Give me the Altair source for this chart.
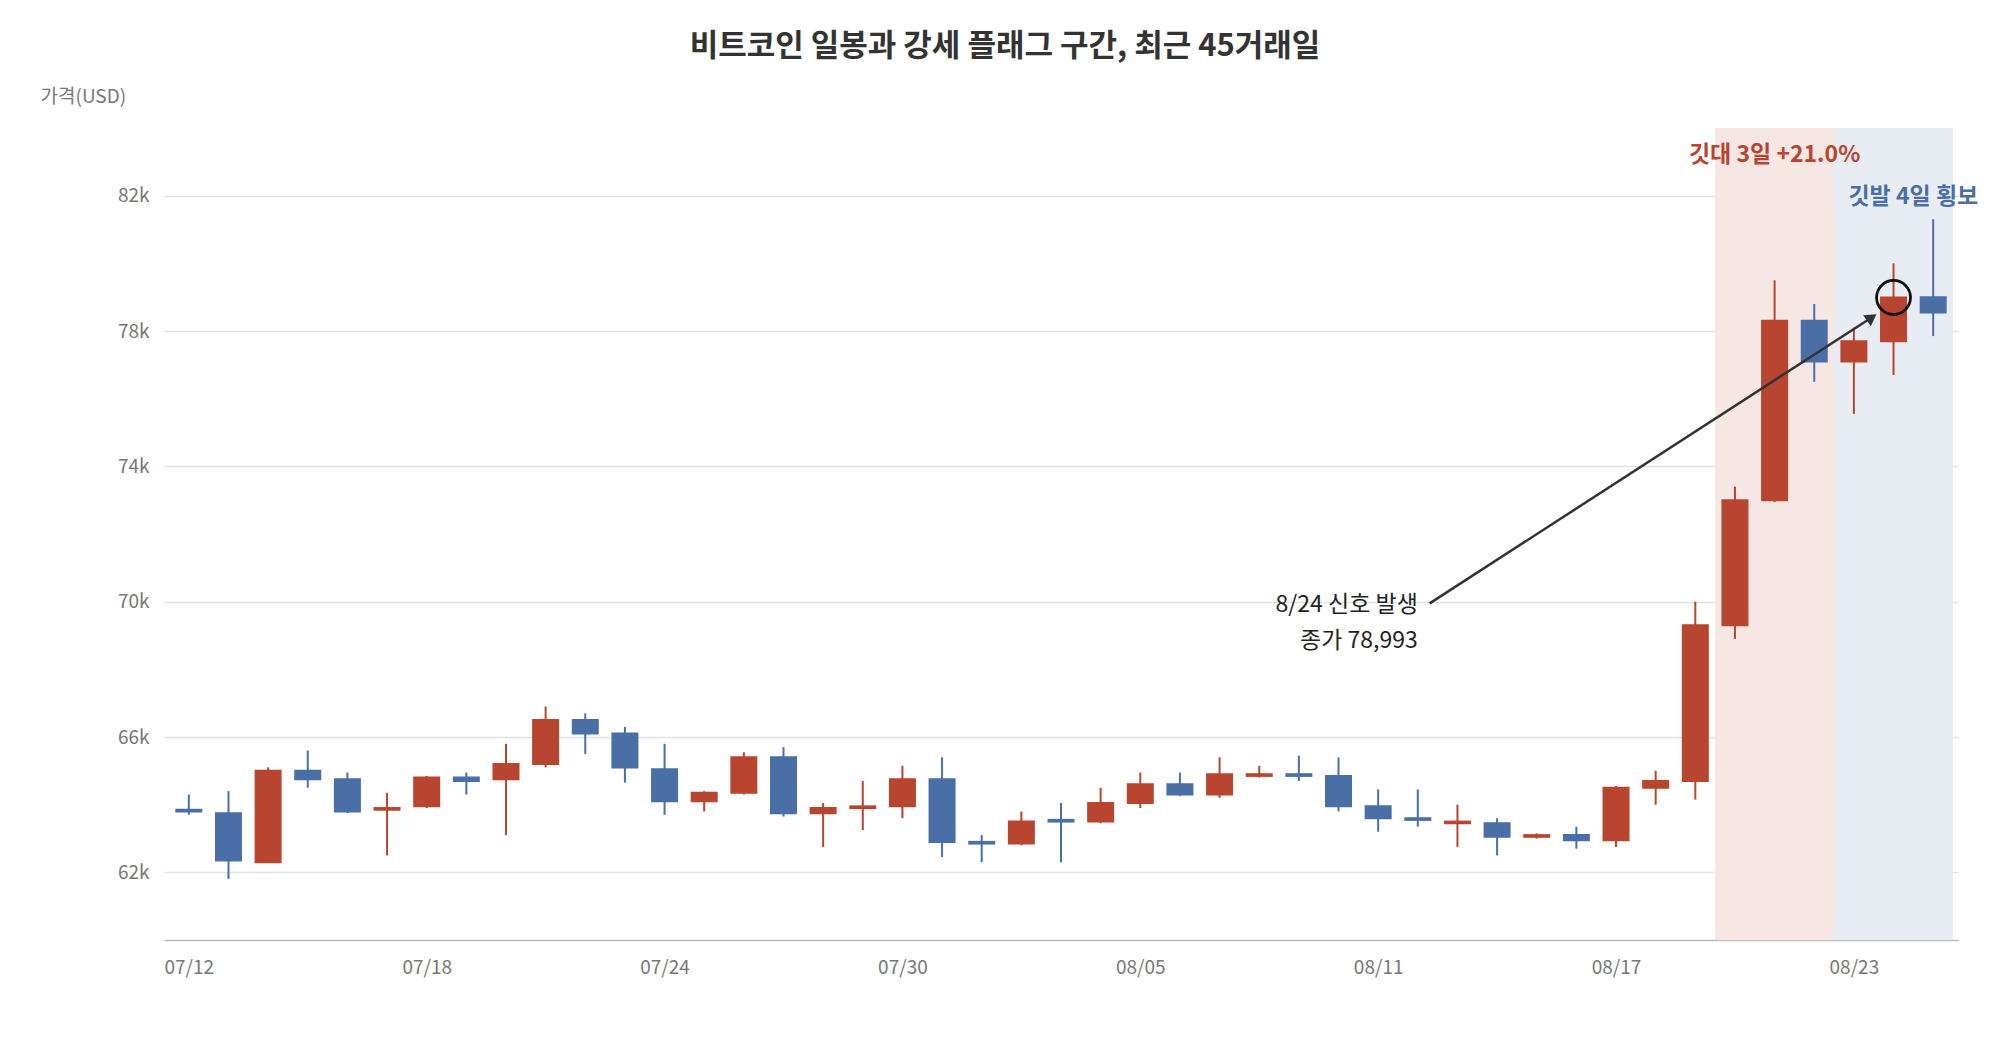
import pandas as pd
import altair as alt

FONT = "Noto Sans CJK KR"
RED = "#b8452f"
BLUE = "#4a6fa6"

dates = ["07/12", "07/13", "07/14", "07/15", "07/16", "07/17", "07/18", "07/19", "07/20", "07/21",
         "07/22", "07/23", "07/24", "07/25", "07/26", "07/27", "07/28", "07/29", "07/30", "07/31",
         "08/01", "08/02", "08/03", "08/04", "08/05", "08/06", "08/07", "08/08", "08/09", "08/10",
         "08/11", "08/12", "08/13", "08/14", "08/15", "08/16", "08/17", "08/18", "08/19", "08/20",
         "08/21", "08/22", "08/23", "08/24", "08/25"]
# prices in thousands of USD
opens = [63.85, 63.75, 62.3, 65.0, 64.75, 63.85, 63.95, 64.8, 64.75, 65.2,
         66.5, 66.1, 65.05, 64.1, 64.35, 65.4, 63.75, 63.9, 63.95, 64.75,
         62.9, 62.85, 63.55, 63.5, 64.05, 64.6, 64.3, 64.85, 64.9, 64.85,
         63.95, 63.6, 63.45, 63.45, 63.05, 63.1, 62.95, 64.5, 64.7, 69.3,
         73.0, 78.3, 77.1, 77.7, 79.0]
closes = [63.8, 62.35, 65.0, 64.75, 63.8, 63.9, 64.8, 64.7, 65.2, 66.5,
          66.1, 65.1, 64.1, 64.35, 65.4, 63.75, 63.9, 63.95, 64.75, 62.9,
          62.85, 63.5, 63.5, 64.05, 64.6, 64.3, 64.9, 64.9, 64.85, 63.95,
          63.6, 63.55, 63.5, 63.05, 63.1, 62.95, 64.5, 64.7, 69.3, 73.0,
          78.3, 77.1, 77.7, 78.993, 78.55]
highs = [64.3, 64.4, 65.1, 65.6, 64.95, 64.35, 64.85, 64.95, 65.8, 66.9,
         66.7, 66.3, 65.8, 64.4, 65.55, 65.7, 64.05, 64.7, 65.15, 65.4,
         63.1, 63.8, 64.05, 64.5, 64.95, 64.95, 65.4, 65.15, 65.45, 65.4,
         64.45, 64.45, 64.0, 63.6, 63.15, 63.35, 64.55, 65.0, 70.0, 73.4,
         79.5, 78.8, 78.1, 80.0, 81.3]
lows = [63.7, 61.8, 62.3, 64.5, 63.75, 62.5, 63.9, 64.3, 63.1, 65.1,
        65.5, 64.65, 63.7, 63.8, 64.3, 63.65, 62.75, 63.25, 63.6, 62.45,
        62.3, 62.8, 62.3, 63.45, 63.9, 64.25, 64.2, 64.8, 64.7, 63.8,
        63.2, 63.35, 62.75, 62.5, 63.0, 62.7, 62.75, 64.0, 64.15, 68.9,
        72.95, 76.5, 75.55, 76.7, 77.85]

tick_days = [0, 6, 12, 18, 24, 30, 36, 42]

df = pd.DataFrame({"i": range(len(dates)), "date": dates, "open": opens,
                   "close": closes, "high": highs, "low": lows})
df["dir"] = ["up" if c >= o else "down" for o, c in zip(opens, closes)]

labels_js = "[" + ",".join(f"'{d}'" for d in dates) + "]"
x_enc = alt.X("i:Q", scale=alt.Scale(domain=[-0.5, 44.5], nice=False, zero=False),
              axis=alt.Axis(values=tick_days, labelExpr=f"{labels_js}[datum.value]",
                            title=None, grid=False, ticks=False, labelPadding=18,
                            labelFontSize=19, labelColor="#777", domainColor="#bbb",
                            domainWidth=1.5, labelFont=FONT))
y_scale = alt.Scale(domain=[60, 84], nice=False, zero=False)
color = alt.Color("dir:N", scale=alt.Scale(domain=["up", "down"], range=[RED, BLUE]), legend=None)

bands = pd.DataFrame({"a": [38.5, 41.5], "b": [41.5, 44.5], "c": ["flag_pole", "flag"]})
band = alt.Chart(bands).mark_rect(opacity=1).encode(
    x="a:Q", x2="b:Q",
    color=alt.Color("c:N", scale=alt.Scale(domain=["flag_pole", "flag"], range=["#f7e7e4", "#e8edf4"]), legend=None),
)

base = alt.Chart(df)
wick = base.mark_rule(strokeWidth=2).encode(
    x=x_enc,
    y=alt.Y("low:Q", scale=y_scale,
            axis=alt.Axis(values=[62, 66, 70, 74, 78, 82], labelExpr="datum.value + 'k'",
                          title="가격(USD)", titleAngle=0, titleAlign="left", titleBaseline="bottom",
                          titleX=-124, titleY=-22, titleFontSize=19, titleFontWeight="normal",
                          titleColor="#777", titleFont=FONT,
                          labelFontSize=19, labelColor="#777", labelFont=FONT, labelPadding=15,
                          domain=False, ticks=False, gridColor="#e2e2e2", gridWidth=1.5)),
    y2="high:Q", color=color,
)
body = base.mark_bar(size=25, strokeWidth=2).encode(
    x="i:Q", y="open:Q", y2="close:Q", color=color, stroke=color,
)

arrow_df = pd.DataFrame({"x": [31.3, 42.45], "y": [69.95, 78.4]})
arrow_line = alt.Chart(arrow_df).mark_line(color="#333", strokeWidth=2.5).encode(x="x:Q", y="y:Q")
arrow_head = alt.Chart(arrow_df.tail(1)).mark_point(
    shape="triangle-up", filled=True, color="#333", size=180, angle=55, opacity=1
).encode(x="x:Q", y="y:Q")

circle = alt.Chart(pd.DataFrame({"x": [43], "y": [78.993]})).mark_point(
    shape="circle", size=1150, color="#111", strokeWidth=2.8, filled=False, opacity=1
).encode(x="x:Q", y="y:Q")

notes = pd.DataFrame({
    "x": [31.0, 31.0], "y": [69.9, 68.85],
    "t": ["8/24 신호 발생", "종가 78,993"],
})
note_text = alt.Chart(notes).mark_text(align="right", baseline="middle", fontSize=23,
                                       font=FONT, color="#222").encode(x="x:Q", y="y:Q", text="t:N")

pole_lbl = alt.Chart(pd.DataFrame({"x": [40.0], "y": [83.2], "t": ["깃대 3일 +21.0%"]})).mark_text(
    fontSize=23, fontWeight="bold", font=FONT, color=RED).encode(x="x:Q", y="y:Q", text="t:N")
flag_lbl = alt.Chart(pd.DataFrame({"x": [43.5], "y": [81.95], "t": ["깃발 4일 횡보"]})).mark_text(
    fontSize=23, fontWeight="bold", font=FONT, color=BLUE).encode(x="x:Q", y="y:Q", text="t:N")

chart = alt.layer(band, wick, body, arrow_line, arrow_head, circle, note_text, pole_lbl, flag_lbl).resolve_scale(
    color="independent"
).properties(
    width=1794, height=812,
    autosize=alt.AutoSizeParams(type="none"),
    padding={"left": 156, "top": 120, "right": 30, "bottom": 90},
    background="white",
    title=alt.TitleParams("비트코인 일봉과 강세 플래그 구간, 최근 45거래일", fontSize=31, fontWeight="bold",
                          font=FONT, color="#333", anchor="middle", dx=-56, offset=24),
).configure_view(stroke=None)

chart.save("out.html", embed_options={"renderer": "svg", "actions": False})
